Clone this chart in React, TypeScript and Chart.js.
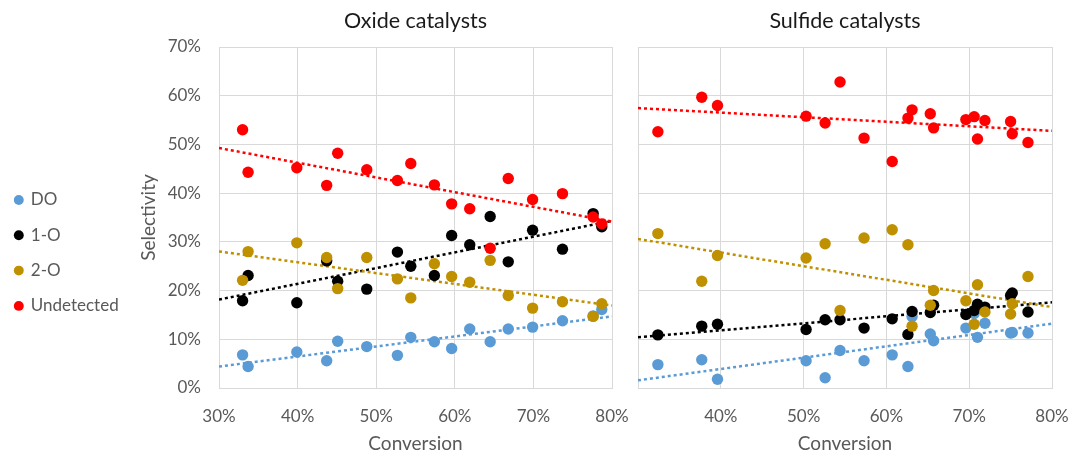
import React, { useEffect, useRef } from 'react';
import { Chart, registerables } from 'chart.js';

Chart.register(...registerables);

// ---------- data ----------
const seriesLabels = ['DO', '1-O', '2-O', 'Undetected'];
const seriesColors = ['#5B9BD5', '#000000', '#BF9000', '#FF0000'];

const xTickMin = 30;
const xTickMax = 80;
const yTickMin = 0;
const yTickMax = 70;

const oxideConversion = [33.0, 33.7, 39.9, 43.7, 45.1, 48.8, 52.7, 54.4, 57.4, 59.6, 61.9, 64.5, 66.8, 69.9, 73.7, 77.6, 78.7];
const oxideDO = [6.8, 4.4, 7.4, 5.6, 9.6, 8.5, 6.7, 10.4, 9.5, 8.1, 12.1, 9.5, 12.1, 12.5, 13.8, 14.8, 16.1];
const oxide1O = [17.9, 23.1, 17.5, 26.1, 21.9, 20.3, 27.9, 25.0, 23.1, 31.3, 29.4, 35.2, 25.9, 32.4, 28.5, 35.8, 33.1];
const oxide2O = [22.1, 28.0, 29.8, 26.8, 20.4, 26.8, 22.4, 18.5, 25.5, 22.9, 21.7, 26.2, 19.0, 16.4, 17.7, 14.7, 17.3];
const oxideUndetected = [53.0, 44.3, 45.2, 41.6, 48.2, 44.8, 42.6, 46.1, 41.7, 37.8, 36.8, 28.7, 43.0, 38.7, 39.9, 35.1, 33.7];

const sulfideConversion = [32.4, 37.7, 39.6, 50.3, 52.6, 54.4, 57.3, 60.7, 62.6, 63.1, 65.3, 65.7, 69.6, 70.6, 71.0, 71.9, 75.0, 75.2, 77.1];
const sulfideDO = [4.8, 5.8, 1.8, 5.6, 2.1, 7.7, 5.6, 6.8, 4.4, 14.7, 11.1, 9.7, 12.3, 15.3, 10.4, 13.3, 11.3, 11.4, 11.3];
const sulfide1O = [10.9, 12.7, 13.1, 12.0, 14.0, 14.0, 12.3, 14.2, 11.0, 15.7, 15.5, 17.0, 15.1, 15.9, 17.2, 16.6, 19.0, 19.5, 15.6];
const sulfide2O = [31.7, 21.9, 27.2, 26.7, 29.6, 15.9, 30.8, 32.5, 29.4, 12.7, 17.0, 20.0, 17.9, 13.1, 21.2, 15.6, 15.2, 17.3, 22.9];
const sulfideUndetected = [52.6, 59.7, 58.0, 55.8, 54.4, 62.8, 51.3, 46.5, 55.4, 57.1, 56.3, 53.4, 55.1, 55.7, 51.1, 54.9, 54.7, 52.2, 50.4];

// ---------- styling ----------
const FONT = "Lato, 'Open Sans', sans-serif";
const GRID = '#D9D9D9';
const TEXT_GRAY = '#595959';

Chart.defaults.font.family = FONT;

function linearFit(xs: number[], ys: number[]): [number, number] {
  const n = xs.length;
  let sx = 0, sy = 0, sxx = 0, sxy = 0;
  for (let i = 0; i < n; i++) {
    sx += xs[i]; sy += ys[i]; sxx += xs[i] * xs[i]; sxy += xs[i] * ys[i];
  }
  const b = (n * sxy - sx * sy) / (n * sxx - sx * sx);
  const a = (sy - b * sx) / n;
  return [a, b];
}

function buildConfig(title: string, xs: number[], ys: number[][], isLeft: boolean, plotLeft: number, padRight: number): any {
  const points = seriesLabels.map((label, i) => ({
    label,
    data: xs.map((x, j) => ({ x, y: ys[i][j] })),
    backgroundColor: seriesColors[i],
    borderColor: seriesColors[i],
    borderWidth: 0,
    pointRadius: 5.7,
    pointHoverRadius: 5.7,
    pointBorderWidth: 0,
    pointStyle: 'circle',
    showLine: false,
    order: 4 - i,
  }));
  const trends = seriesLabels.map((label, i) => {
    const [a, b] = linearFit(xs, ys[i]);
    return {
      label: label + ' trend',
      data: [
        { x: xTickMin, y: a + b * xTickMin },
        { x: xTickMax, y: a + b * xTickMax },
      ],
      borderColor: seriesColors[i],
      backgroundColor: seriesColors[i],
      borderWidth: 2.5,
      borderDash: [3, 3],
      pointRadius: 0,
      pointHoverRadius: 0,
      showLine: true,
      fill: false,
      order: 14 - i,
    };
  });

  return {
    type: 'scatter',
    data: { datasets: [...points, ...trends] },
    options: {
      animation: false,
      responsive: false,
      maintainAspectRatio: false,
      events: [],
      layout: { padding: { left: 0, right: padRight, top: 0, bottom: 0 } },
      plugins: {
        tooltip: { enabled: false },
        title: {
          display: true,
          text: title,
          fullSize: false,
          color: '#1A1A1A',
          font: { family: FONT, size: 21.5, weight: 'normal' },
          padding: { top: 8.1, bottom: 13.1 },
        },
        legend: isLeft
          ? {
              display: true,
              position: 'left',
              align: 'center',
              title: {
                display: true,
                text: ' ',
                color: 'rgba(0,0,0,0)',
                font: { family: FONT, size: 16 },
                padding: { top: 33.7, bottom: 0 },
              },
              labels: {
                usePointStyle: true,
                boxWidth: 7,
                boxHeight: 7,
                padding: 18.3,
                color: TEXT_GRAY,
                font: { family: FONT, size: 17 },
                filter: (item: any) => item.datasetIndex < 4,
                sort: (a: any, b: any) => a.datasetIndex - b.datasetIndex,
              },
            }
          : { display: false },
      },
      scales: {
        x: {
          type: 'linear',
          min: xTickMin,
          max: xTickMax,
          border: { display: true, color: GRID, width: 1 },
          grid: { color: GRID, lineWidth: 1, drawTicks: false },
          ticks: {
            stepSize: 10,
            padding: 18,
            maxRotation: 0,
            autoSkip: false,
            color: TEXT_GRAY,
            font: { family: FONT, size: 17 },
            callback: (v: any) => (!isLeft && v === xTickMin ? '' : v + '%'),
          },
          title: {
            display: true,
            text: 'Conversion',
            color: TEXT_GRAY,
            font: { family: FONT, size: 19, lineHeight: 1.0 },
            padding: { top: 4, bottom: 0 },
          },
          afterFit: (s: any) => {
            s.height = 65;
          },
        },
        y: {
          type: 'linear',
          min: yTickMin,
          max: yTickMax,
          border: { display: true, color: GRID, width: 1 },
          grid: { color: GRID, lineWidth: 1, drawTicks: false },
          ticks: {
            display: isLeft,
            stepSize: 10,
            padding: 18,
            color: TEXT_GRAY,
            font: { family: FONT, size: 17 },
            callback: (v: any) => v + '%',
          },
          title: isLeft
            ? {
                display: true,
                text: 'Selectivity',
                color: TEXT_GRAY,
                font: { family: FONT, size: 19 },
                padding: { top: 9, bottom: 0 },
              }
            : { display: false },
          afterFit: (s: any) => {
            const lw = isLeft && s.chart.legend ? s.chart.legend.width : 0;
            s.width = plotLeft - lw;
          },
        },
      },
    },
  };
}

function Panel(props: { left: number; width: number; height: number; config: () => any }) {
  const ref = useRef<HTMLCanvasElement | null>(null);
  useEffect(() => {
    if (!ref.current) return;
    const chart = new Chart(ref.current, props.config());
    return () => chart.destroy();
  }, []);
  return (
    <canvas
      ref={ref}
      width={props.width}
      height={props.height}
      style={{ position: 'absolute', left: props.left, top: 0, width: props.width, height: props.height, display: 'block' }}
    />
  );
}

export default function App() {
  return (
    <div style={{ position: 'fixed', left: 0, top: 0, width: 1070, height: 453, background: '#FFFFFF', overflow: 'hidden' }}>
      <Panel
        left={-3}
        width={652}
        height={453}
        config={() =>
          buildConfig('Oxide catalysts', oxideConversion, [oxideDO, oxide1O, oxide2O, oxideUndetected], true, 222, 37)
        }
      />
      <Panel
        left={620}
        width={470}
        height={453}
        config={() =>
          buildConfig('Sulfide catalysts', sulfideConversion, [sulfideDO, sulfide1O, sulfide2O, sulfideUndetected], false, 14, 38)
        }
      />
    </div>
  );
}
